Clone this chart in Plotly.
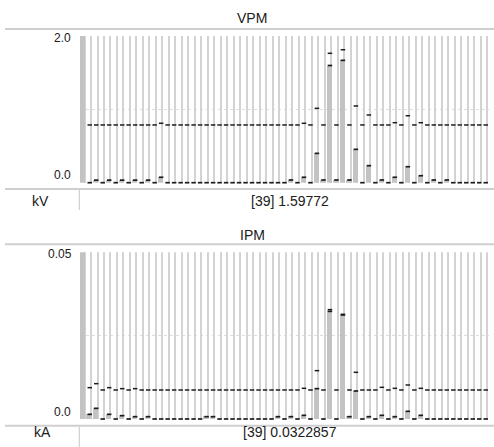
import plotly.graph_objects as go

# ---------------- data ----------------
CHANNELS = list(range(63))
SELECTED = 38  # shown as [39]

VPM_RANGE = [0.0, 2.0]
IPM_RANGE = [0.0, 0.05]
VPM_TICKS = ["0.0", "2.0"]
IPM_TICKS = ["0.0", "0.05"]
VPM_UNIT = "kV"
IPM_UNIT = "kA"

vpm_value = [2.0, 0, 0.035, 0, 0.035, 0, 0.035, 0, 0.035, 0, 0.035, 0, 0.074, 0, 0, 0,
             0, 0, 0, 0, 0, 0, 0, 0, 0, 0, 0, 0, 0, 0, 0, 0,
             0.037, 0, 0.074, 0, 0.40, 0.037, 1.59772, 0.037, 1.668, 0.037, 0.455, 0, 0.232, 0,
             0.037, 0, 0.074, 0, 0.218, 0, 0.095, 0, 0.037, 0, 0.037, 0, 0, 0, 0, 0, 0]
vpm_max = [None, 0.787, 0.787, 0.787, 0.787, 0.787, 0.787, 0.787, 0.787, 0.787, 0.787, 0.787, 0.81, 0.787,
           0.787, 0.787, 0.787, 0.787, 0.787, 0.787, 0.787, 0.787, 0.787, 0.787, 0.787, 0.787, 0.787,
           0.787, 0.787, 0.787, 0.787, 0.787, 0.787, 0.787, 0.81, 0.787, 1.014, 0.787, 1.764, 0.787,
           1.813, 0.787, 1.046, 0.787, 0.923, 0.787, 0.787, 0.787, 0.818, 0.787, 0.913, 0.787, 0.818,
           0.787, 0.787, 0.787, 0.787, 0.787, 0.787, 0.787, 0.787, 0.787, 0.787]

ipm_value = [0.05, 0.0014, 0.0032, 0, 0.0014, 0, 0.001, 0, 0.0007, 0, 0.0007, 0, 0, 0, 0, 0,
             0, 0, 0, 0.0007, 0.0007, 0, 0, 0, 0, 0, 0, 0, 0, 0, 0.0007, 0,
             0.0007, 0, 0.0011, 0, 0.0091, 0, 0.0322857, 0, 0.0312, 0.0007, 0.0084, 0, 0.0007, 0,
             0.0011, 0, 0.0007, 0, 0.0023, 0, 0.0011, 0, 0, 0, 0, 0, 0, 0, 0, 0, 0]
ipm_max = [None, 0.0094, 0.0106, 0.0087, 0.0094, 0.0087, 0.0091, 0.0087, 0.0091, 0.0087, 0.0087,
           0.0087, 0.0087, 0.0087, 0.0087, 0.0087, 0.0087, 0.0087, 0.0087, 0.0087, 0.0087, 0.0087,
           0.0087, 0.0087, 0.0087, 0.0087, 0.0087, 0.0087, 0.0087, 0.0087, 0.0087, 0.0087, 0.0087,
           0.0087, 0.0092, 0.0087, 0.0145, 0.0087, 0.0328, 0.0087, 0.0314, 0.0087, 0.014, 0.0087,
           0.0087, 0.0087, 0.0095, 0.0087, 0.0092, 0.0087, 0.0102, 0.0087, 0.0092, 0.0087, 0.0087,
           0.0087, 0.0087, 0.0087, 0.0087, 0.0087, 0.0087, 0.0087, 0.0087]

# ---------------- figure ----------------
W, H = 494, 447
FONT = "Liberation Sans, Arial, sans-serif"
TRACK = "#d3d3d3"
BARC = "#c3c3c3"
DASH = "#1c1c1c"

def px_x(p):
    return p / W

def px_y(p):
    return 1 - p / H

fig = go.Figure()

def add_panel(values, maxes, rng, xa, ya):
    n = len(CHANNELS)
    # full-height background tracks
    fig.add_trace(go.Bar(x=CHANNELS, y=[rng[1]] * n, base=0, width=0.2, offset=0.12,
                         marker=dict(color=TRACK, line=dict(width=0)),
                         xaxis=xa, yaxis=ya, hoverinfo="skip", showlegend=False))
    # value bars
    fig.add_trace(go.Bar(x=CHANNELS, y=values, base=0, width=0.82, offset=-0.5,
                         marker=dict(color=BARC, line=dict(width=0)),
                         xaxis=xa, yaxis=ya, showlegend=False))
    # value dashes
    fig.add_trace(go.Scatter(x=CHANNELS[1:], y=values[1:], mode="markers",
                             marker=dict(symbol="line-ew", size=3.2, color=DASH,
                                         line=dict(color=DASH, width=1.7)),
                             cliponaxis=False, xaxis=xa, yaxis=ya, showlegend=False))
    # max dashes
    fig.add_trace(go.Scatter(x=CHANNELS, y=maxes, mode="markers",
                             marker=dict(symbol="line-ew", size=3.2, color=DASH,
                                         line=dict(color=DASH, width=1.5)),
                             cliponaxis=False, xaxis=xa, yaxis=ya, showlegend=False))

add_panel(vpm_value, vpm_max, VPM_RANGE, "x", "y")
add_panel(ipm_value, ipm_max, IPM_RANGE, "x2", "y2")

xdom = [px_x(80), px_x(489)]
xcommon = dict(range=[-0.5, len(CHANNELS) - 0.5], showgrid=False, zeroline=False,
               showticklabels=False, ticks="", showline=False, fixedrange=True)

def ycommon(rng):
    mid = (rng[0] + rng[1]) / 2
    return dict(range=rng, tickvals=[mid], showticklabels=False, ticks="", showgrid=True,
                gridcolor="#dedede", griddash="dot", gridwidth=1, zeroline=False, showline=False)

fig.update_layout(
    width=W, height=H, margin=dict(l=0, r=0, t=0, b=0),
    paper_bgcolor="white", plot_bgcolor="white", barmode="overlay", bargap=0,
    xaxis=dict(domain=xdom, anchor="y", **xcommon),
    yaxis=dict(domain=[px_y(182.7), px_y(36)], anchor="x", **ycommon(VPM_RANGE)),
    xaxis2=dict(domain=xdom, anchor="y2", **xcommon),
    yaxis2=dict(domain=[px_y(419), px_y(252.3)], anchor="x2", **ycommon(IPM_RANGE)),
)

line_col = "#cfcfcf"
shapes = []
for yy in (29, 189, 244.3, 425.7):
    shapes.append(dict(type="line", xref="paper", yref="paper", x0=px_x(5), x1=1,
                       y0=px_y(yy), y1=px_y(yy), line=dict(color=line_col, width=2)))
for y0, y1 in ((190, 210), (427, 447)):
    shapes.append(dict(type="line", xref="paper", yref="paper", x0=px_x(79.3), x1=px_x(79.3),
                       y0=px_y(y0), y1=px_y(y1), line=dict(color=line_col, width=1.2)))
fig.update_layout(shapes=shapes)

def txt(x, y, s, size=14, xanchor="center"):
    return dict(x=px_x(x), y=px_y(y), xref="paper", yref="paper", text=s, showarrow=False,
                xanchor=xanchor, yanchor="middle", font=dict(family=FONT, size=size, color="#202020"))

ann = [
    txt(252, 18, "VPM"),
    txt(252, 235, "IPM"),
    txt(40.5, 201, VPM_UNIT),
    txt(42.5, 432, IPM_UNIT),
    txt(290, 201, f"[{SELECTED + 1}] {vpm_value[SELECTED]}"),
    txt(290, 432, f"[{SELECTED + 1}] {ipm_value[SELECTED]}"),
    txt(73, 38.5, VPM_TICKS[1], 12, "right"),
    txt(73, 174.5, VPM_TICKS[0], 12, "right"),
    txt(74, 254, IPM_TICKS[1], 12, "right"),
    txt(73, 411.5, IPM_TICKS[0], 12, "right"),
]
fig.update_layout(annotations=ann)

fig.write_html("out.html", config={"displayModeBar": False},
               post_script="document.body.style.margin='0';document.body.style.overflow='hidden';")
